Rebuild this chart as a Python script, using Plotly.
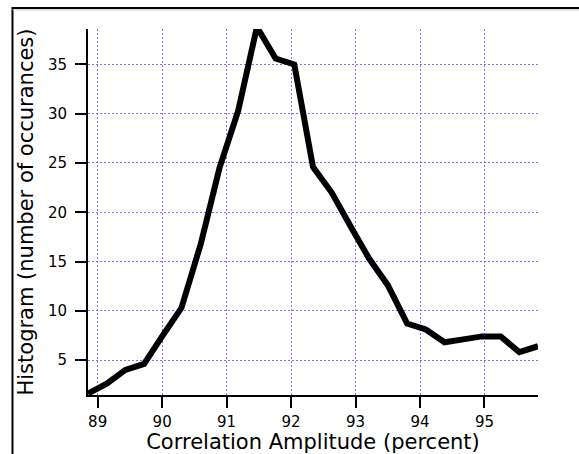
import plotly.graph_objects as go

amplitude = [88.85, 89.14, 89.43, 89.72, 90.01, 90.30, 90.60, 90.89, 91.18, 91.47,
             91.76, 92.05, 92.34, 92.63, 92.92, 93.21, 93.50, 93.80, 94.09, 94.38,
             94.67, 94.96, 95.25, 95.54, 95.83]
counts = [1.6, 2.6, 4.0, 4.6, 7.5, 10.3, 16.8, 24.5, 30.3, 38.8,
          35.6, 35.0, 24.6, 22.0, 18.6, 15.3, 12.6, 8.7, 8.1, 6.8,
          7.1, 7.4, 7.4, 5.8, 6.4]
x_ticks = [89, 90, 91, 92, 93, 94, 95]
y_ticks = [5, 10, 15, 20, 25, 30, 35]

fig = go.Figure()
fig.add_trace(go.Scatter(x=amplitude, y=counts, mode="lines",
                         line=dict(color="black", width=6), showlegend=False))

font = "DejaVu Sans"
grid_color = "rgb(115,115,255)"
fig.update_layout(
    width=579, height=454,
    margin=dict(l=88, r=41, t=29, b=59),
    paper_bgcolor="white", plot_bgcolor="white",
    font=dict(family=font, color="black", size=15),
    xaxis=dict(range=[88.85, 95.83], tickvals=x_ticks, ticks="outside", ticklen=11,
               tickwidth=1.5, tickcolor="black", showline=True, linecolor="black",
               linewidth=2, showgrid=True, gridcolor=grid_color, griddash="2px,2px",
               gridwidth=1, zeroline=False, tickfont=dict(size=15), ticklabelstandoff=1,
               automargin=False,
               title=dict(text="Correlation Amplitude (percent)", font=dict(size=21), standoff=4)),
    yaxis=dict(range=[1.45, 38.6], tickvals=y_ticks, ticks="outside", ticklen=11,
               tickwidth=1.5, tickcolor="black", showline=True, linecolor="black",
               linewidth=2, showgrid=True, gridcolor=grid_color, griddash="2px,2px",
               gridwidth=1, zeroline=False, tickfont=dict(size=15), ticklabelstandoff=5,
               automargin=False,
               title=dict(text="Histogram (number of occurances)", font=dict(size=21), standoff=9)),
    shapes=[
        dict(type="rect", xref="paper", yref="paper", x0=-0.1678, x1=1.3, y0=-0.4, y1=1.0574,
             line=dict(color="black", width=2), fillcolor="rgba(0,0,0,0)", layer="above"),
        dict(type="line", xref="paper", yref="paper", x0=-0.1678, x1=1.3, y0=1.052, y1=1.052,
             line=dict(color="rgb(200,200,200)", width=1)),
    ],
)

fig.write_html("out.html")
